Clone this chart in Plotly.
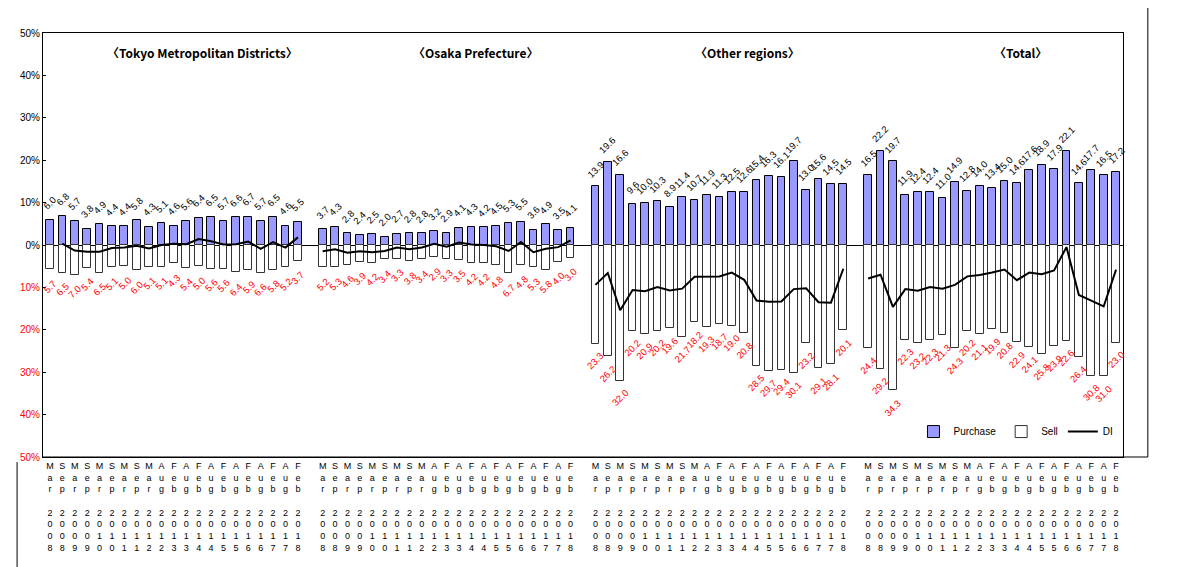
import plotly.graph_objects as go

months = ["Mar","Sep","Mar","Sep","Mar","Sep","Mar","Sep","Mar","Aug","Feb",
          "Aug","Feb","Aug","Feb","Aug","Feb","Aug","Feb","Aug","Feb"]
years = ["2008","2008","2009","2009","2010","2010","2011","2011","2012","2012","2013",
         "2013","2014","2014","2015","2015","2016","2016","2017","2017","2018"]

regions = ["〈Tokyo Metropolitan Districts〉", "〈Osaka Prefecture〉", "〈Other regions〉", "〈Total〉"]

tokyo_purchase = [6.0,6.8,5.7,3.8,4.9,4.4,4.4,5.8,4.3,5.1,4.6,5.6,6.4,6.5,5.7,6.6,6.7,5.7,6.5,4.6,5.5]
tokyo_sell = [5.7,6.5,7.0,5.4,6.5,5.1,5.0,6.0,5.1,5.1,4.3,5.4,5.0,5.6,5.6,6.4,5.9,6.6,5.8,5.2,3.7]
tokyo_di = [None,0.3,-1.3,-1.6,-1.6,-0.7,-0.6,-0.2,-0.8,0.0,0.3,0.2,1.4,0.9,0.1,0.2,0.8,-0.9,0.7,-0.6,1.8]

osaka_purchase = [3.7,4.3,2.8,2.4,2.5,2.0,2.7,2.8,2.8,3.2,2.9,4.1,4.3,4.2,4.5,5.3,5.5,3.6,4.9,3.5,4.1]
osaka_sell = [5.2,5.3,4.6,3.9,4.2,3.4,3.3,3.8,3.4,2.9,3.3,3.5,4.2,4.2,4.8,6.7,4.8,5.3,5.8,4.0,3.0]
osaka_di = [-1.5,-1.0,-1.8,-1.5,-1.7,-1.4,-0.6,-1.0,-0.6,0.3,-0.4,0.6,0.1,0.0,-0.3,-1.4,0.7,-1.7,-0.9,-0.5,1.1]

other_purchase = [13.9,19.6,16.6,9.6,10.0,10.3,8.9,11.4,10.7,11.9,11.3,12.5,12.6,15.4,16.3,16.1,19.7,13.0,15.6,14.5,14.5]
other_sell = [23.3,26.2,32.0,20.2,20.9,20.2,19.6,21.7,18.2,19.3,18.7,19.0,20.8,28.5,29.7,29.4,30.1,23.2,29.1,28.1,20.1]
other_di = [-9.4,-6.6,-15.4,-10.6,-10.9,-9.9,-10.7,-10.3,-7.5,-7.4,-7.4,-6.5,-8.2,-13.1,-13.4,-13.3,-10.4,-10.2,-13.5,-13.6,-5.6]

total_purchase = [16.5,22.2,19.7,11.9,12.4,12.4,11.0,14.9,12.8,14.0,13.4,15.0,14.6,17.6,18.9,17.9,22.1,14.6,17.7,16.5,17.2]
total_sell = [24.4,29.2,34.3,22.3,23.2,22.3,21.3,24.3,20.2,21.1,19.9,20.8,22.9,24.1,25.8,23.9,22.6,26.4,30.8,31.0,23.0]
total_di = [-7.9,-7.0,-14.6,-10.4,-10.8,-9.9,-10.3,-9.4,-7.4,-7.1,-6.5,-5.8,-8.3,-6.5,-6.9,-6.0,-0.5,-11.8,-13.1,-14.5,-5.8]

purchases = [tokyo_purchase, osaka_purchase, other_purchase, total_purchase]
sells = [tokyo_sell, osaka_sell, other_sell, total_sell]
dis = [tokyo_di, osaka_di, other_di, total_di]

N = len(months)
STRIDE = N + 1

fig = go.Figure()
annotations = []
tickvals, ticktext = [], []
label = ["<br>".join(list(m)) + "<br><br>" + "<br>".join(list(y)) for m, y in zip(months, years)]

for g in range(4):
    xs = [g * STRIDE + i for i in range(N)]
    tickvals += xs
    ticktext += label
    fig.add_trace(go.Bar(x=xs, y=purchases[g], width=0.62, name="Purchase",
                         marker=dict(color="#9999FF", line=dict(color="#000000", width=1)),
                         legendgroup="p", showlegend=(g == 0)))
    fig.add_trace(go.Bar(x=xs, y=[-v for v in sells[g]], width=0.62, name="Sell",
                         marker=dict(color="#FFFFFF", line=dict(color="#333333", width=1)),
                         legendgroup="s", showlegend=(g == 0)))
    fig.add_trace(go.Scatter(x=xs, y=dis[g], mode="lines", name="DI",
                             line=dict(color="#000000", width=2),
                             legendgroup="d", showlegend=(g == 0)))
    for x, v in zip(xs, purchases[g]):
        annotations.append(dict(x=x, y=v, yshift=17, text=f"{v:.1f}", showarrow=False,
                                textangle=-45, font=dict(size=9.5, color="#000000")))
    for x, v in zip(xs, sells[g]):
        annotations.append(dict(x=x, y=-v, yshift=-17, text=f"{v:.1f}", showarrow=False,
                                textangle=-45, font=dict(size=9.5, color="#FF0000")))
    annotations.append(dict(x=g * STRIDE + (N - 1) / 2 + 2.3, y=45.5, text=f"<b>{regions[g]}</b>",
                            showarrow=False, font=dict(size=12, color="#000000",
                                                       family="Noto Sans CJK JP")))

yvals = list(range(-50, 51, 10))
ytext = [f"{v}%" if v >= 0 else f"<span style='color:#FF0000'>{-v}%</span>" for v in yvals]

# outer page frame lines (paper coordinates relative to the plot area)
shapes = [
    dict(type="line", xref="paper", yref="paper", x0=1.023, x1=1.023, y0=0, y1=1.08,
         line=dict(color="#000000", width=1)),
    dict(type="line", xref="paper", yref="paper", x0=0, x1=1.023, y0=0, y1=0,
         line=dict(color="#000000", width=1)),
    dict(type="line", xref="paper", yref="paper", x0=-0.024, x1=-0.024, y0=-0.012, y1=-0.27,
         line=dict(color="#000000", width=1)),
]

fig.update_layout(
    width=1190, height=559,
    margin=dict(l=27, r=75, t=25, b=110),
    plot_bgcolor="#FFFFFF", paper_bgcolor="#FFFFFF",
    barmode="overlay", bargap=0,
    font=dict(family="Liberation Sans, Arial, sans-serif", size=10, color="#000000"),
    annotations=annotations,
    shapes=shapes,
    legend=dict(orientation="h", x=0.806, y=0.06, yanchor="middle", xanchor="left",
                font=dict(size=10), bgcolor="rgba(0,0,0,0)", traceorder="normal"),
    xaxis=dict(range=[-0.56, 3 * STRIDE + N - 1 + 0.56], tickmode="array",
               tickvals=tickvals, ticktext=ticktext, tickangle=0,
               tickfont=dict(size=9), showgrid=False, zeroline=False,
               showline=True, mirror=True, linecolor="#000000", linewidth=1, ticks=""),
    yaxis=dict(range=[-50, 50], tickmode="array", tickvals=yvals, ticktext=ytext,
               tickfont=dict(size=10), showgrid=False, zeroline=True,
               zerolinecolor="#000000", zerolinewidth=1,
               showline=True, mirror=True, linecolor="#000000", linewidth=1,
               ticks="inside", ticklen=3, tickcolor="#000000"),
)

fig.write_html("out.html")
